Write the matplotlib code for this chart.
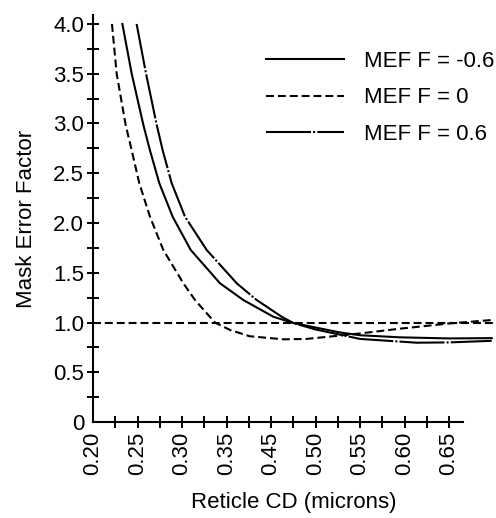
import matplotlib
matplotlib.use("Agg")
import matplotlib.pyplot as plt
from matplotlib.lines import Line2D

plt.rcParams['font.family'] = ['Liberation Sans', 'DejaVu Sans']

# Axis tick labels (note: the original axis skips 0.40)
x_tick_pos = [0.20, 0.25, 0.30, 0.35, 0.40, 0.45, 0.50, 0.55, 0.60]
x_tick_labels = ['0.20', '0.25', '0.30', '0.35', '0.45', '0.50', '0.55', '0.60', '0.65']
y_tick_pos = [0, 0.5, 1.0, 1.5, 2.0, 2.5, 3.0, 3.5, 4.0]
y_tick_labels = ['0', '0.5', '1.0', '1.5', '2.0', '2.5', '3.0', '3.5', '4.0']

# Series (x in axis position units)
x_neg = [0.233, 0.2435, 0.2566, 0.264, 0.2745, 0.2895, 0.3098, 0.3427, 0.3689, 0.4026, 0.425,
         0.4775, 0.50, 0.545, 0.60, 0.648]
y_neg = [4.0, 3.5, 2.985, 2.73, 2.40, 2.063, 1.729, 1.394, 1.226, 1.058, 0.995,
         0.90, 0.872, 0.851, 0.840, 0.843]

x_zero = [0.2213, 0.2266, 0.2367, 0.2435, 0.252, 0.264, 0.279, 0.3015, 0.3146, 0.337, 0.354,
          0.376, 0.414, 0.44, 0.47, 0.50, 0.545, 0.60, 0.648]
y_zero = [4.0, 3.5, 2.985, 2.73, 2.40, 2.063, 1.729, 1.394, 1.226, 1.0, 0.925,
          0.862, 0.831, 0.835, 0.862, 0.89, 0.938, 0.99, 1.025]

x_pos = [0.249, 0.2596, 0.2716, 0.2783, 0.2884, 0.3034, 0.3277, 0.3615, 0.3839, 0.412, 0.425,
         0.45, 0.50, 0.5637, 0.60, 0.648]
y_pos = [4.0, 3.5, 2.985, 2.73, 2.40, 2.063, 1.729, 1.394, 1.226, 1.058, 0.995,
         0.93, 0.835, 0.797, 0.80, 0.816]

ref_x = [0.20, 0.65]
ref_y = [1.0, 1.0]

labels = ['MEF F = -0.6', 'MEF F = 0', 'MEF F = 0.6']

fig = plt.figure(figsize=(4.96, 5.18), dpi=100)
ax = fig.add_axes([0.1875, 0.1853, 0.8075, 0.7857])

lw = 1.5
dash_style = (3.8, 1.9)
dashdot_style = (21.6, 1.0, 1.0, 1.0)

ax.plot(ref_x, ref_y, color='black', lw=lw, dashes=dash_style)
ax.plot(x_neg, y_neg, color='black', lw=lw)
ax.plot(x_zero, y_zero, color='black', lw=lw, dashes=dash_style)
ax.plot(x_pos, y_pos, color='black', lw=lw, dashes=dashdot_style)

ax.set_xlim(0.20, 0.65)
ax.set_ylim(0, 4.09)

for s in ['top', 'right']:
    ax.spines[s].set_visible(False)
for s in ['left', 'bottom']:
    ax.spines[s].set_linewidth(1.5)
ax.spines['bottom'].set_bounds(0.20, 0.6157)

ax.set_xticks(x_tick_pos)
ax.set_xticklabels(x_tick_labels, rotation=90)
ax.set_xticks([p + 0.025 for p in x_tick_pos[:-1]], minor=True)
ax.set_yticks(y_tick_pos)
ax.set_yticklabels(y_tick_labels)
ax.set_yticks([p + 0.25 for p in y_tick_pos[:-1]], minor=True)

ax.tick_params(which='both', direction='inout', length=8.6, width=1.4, labelsize=16)
ax.tick_params(axis='y', which='major', pad=2)
ax.tick_params(axis='x', which='major', pad=3)
ax.xaxis.get_major_ticks()[0].tick1line.set_visible(False)
ax.yaxis.get_major_ticks()[0].tick1line.set_visible(False)

ax.set_xlabel('Reticle CD (microns)', fontsize=16, labelpad=12)
ax.set_ylabel('Mask Error Factor', fontsize=16, labelpad=12)

handles = [Line2D([], [], color='black', lw=lw),
           Line2D([], [], color='black', lw=lw, dashes=dash_style),
           Line2D([], [], color='black', lw=lw, dashes=dashdot_style)]
ax.legend(handles, labels, loc='upper right', bbox_to_anchor=(0.996, 0.902),
          bbox_transform=fig.transFigure, frameon=False, fontsize=16,
          handlelength=3.5, handletextpad=0.9, labelspacing=0.7,
          borderaxespad=0, borderpad=0)

fig.savefig('out.png', dpi=100)
